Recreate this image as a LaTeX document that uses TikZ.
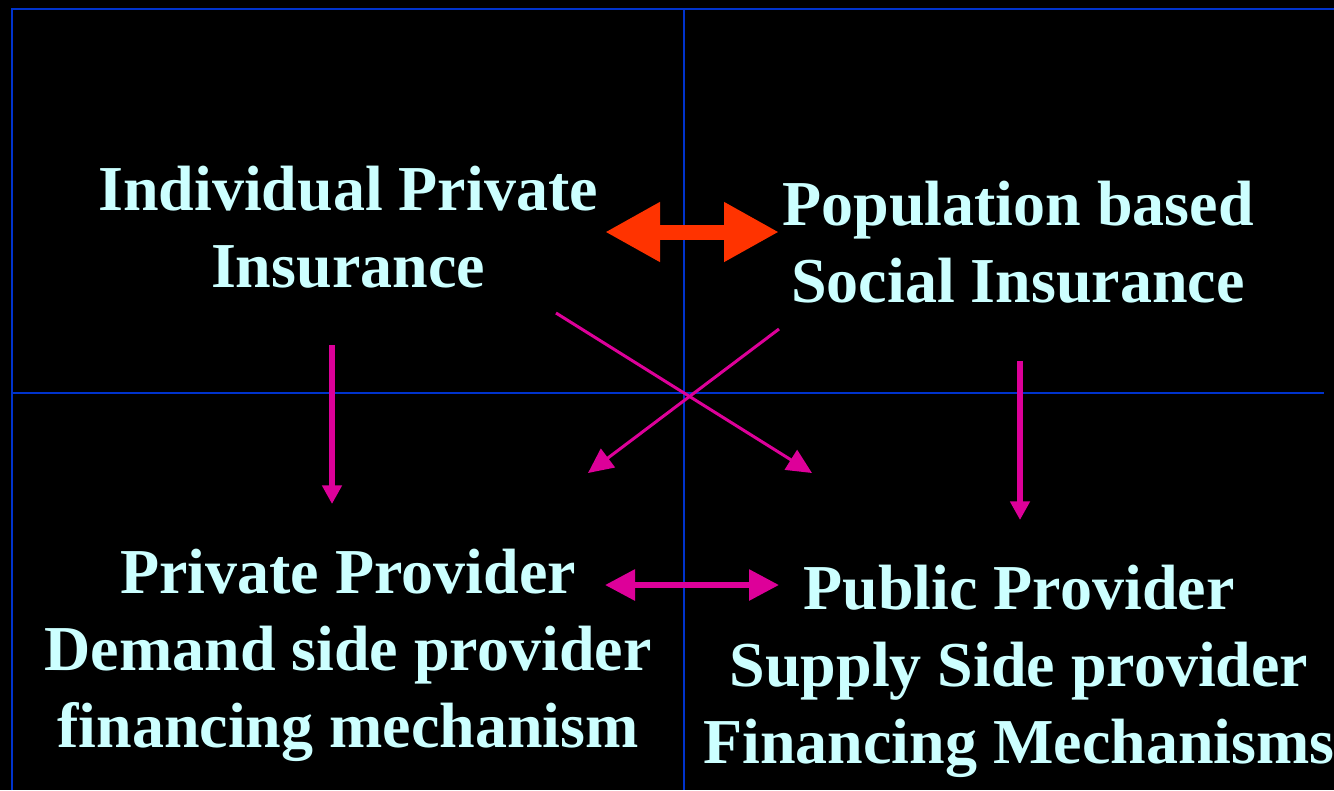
\documentclass[tikz,border=0pt]{standalone}
\usepackage{fontspec}
\setmainfont{Liberation Serif}
\usetikzlibrary{arrows.meta}
\definecolor{gridblue}{RGB}{0,51,204}
\definecolor{labelcyan}{RGB}{204,255,255}
\definecolor{linkmagenta}{RGB}{221,0,153}
\definecolor{linkorange}{RGB}{255,51,0}
\begin{document}
\begin{tikzpicture}[x=0.75pt,y=-0.75pt,
  gridline/.style={draw=gridblue,line width=1.5pt},
  label/.style={text=labelcyan,font=\fontsize{48}{57.75}\selectfont\bfseries,align=center,inner sep=0pt},
  bigswap/.style={draw=linkorange,line width=11.25pt,
    {Triangle[length=41.25pt,width=42pt]}-{Triangle[length=41.25pt,width=42pt]}},
  swap/.style={draw=linkmagenta,line width=4.5pt,
    {Triangle[length=22.5pt,width=22.5pt]}-{Triangle[length=22.5pt,width=22.5pt]}},
  down/.style={draw=linkmagenta,line width=4.5pt,-{Triangle[length=14pt,width=14.25pt]}},
  cross/.style={draw=linkmagenta,line width=2.25pt,-{Triangle[length=18.75pt,width=17.25pt]}}]
  % canvas
  \fill[black] (0,0) rectangle (1334,790);
  \useasboundingbox (0,0) rectangle (1334,790);
  % quadrant grid
  \draw[gridline] (12,790) -- (12,9) -- (1334,9);
  \draw[gridline] (684,9) -- (684,790);
  \draw[gridline] (12,393) -- (1324,393);
  % quadrant labels
  \node[label] (ipi) at (348,227) {Individual Private\\Insurance};
  \node[label] (psi) at (1018,242) {Population based\\Social Insurance};
  \node[label] (ppd) at (348,655) {Private Provider\\Demand side provider\\financing mechanism};
  \node[label] (pps) at (1019,671) {Public Provider\\Supply Side provider\\Financing Mechanisms};
  % connector end points
  \coordinate (ins-l) at (605,232);
  \coordinate (ins-r) at (779,232);
  \coordinate (prov-l) at (605,585);
  \coordinate (prov-r) at (779,585);
  \coordinate (ipi-s) at (332,345);
  \coordinate (ppd-n) at (332,504);
  \coordinate (psi-s) at (1020,361);
  \coordinate (pps-n) at (1020,520);
  \coordinate (ipi-se) at (556,313);
  \coordinate (pps-nw) at (812,473);
  \coordinate (psi-sw) at (779,329);
  \coordinate (ppd-ne) at (588,473);
  % connectors
  \draw[bigswap] (ins-l) -- (ins-r);
  \draw[swap] (prov-l) -- (prov-r);
  \draw[down] (ipi-s) -- (ppd-n);
  \draw[down] (psi-s) -- (pps-n);
  \draw[cross] (ipi-se) -- (pps-nw);
  \draw[cross] (psi-sw) -- (ppd-ne);
\end{tikzpicture}
\end{document}
